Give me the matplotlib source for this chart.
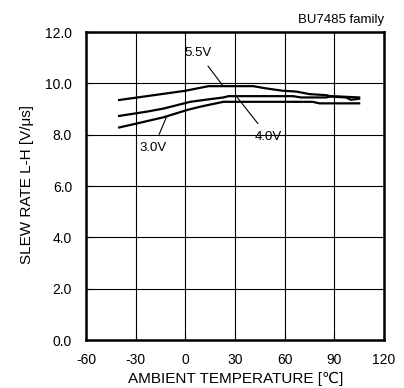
import matplotlib
matplotlib.use("Agg")
import matplotlib.pyplot as plt

plt.rcParams['font.family'] = ['Liberation Sans', 'DejaVu Sans']

temp_55 = [-40, -20, 0, 14, 41, 49, 59, 67, 75, 85, 89, 97, 100, 105]
rate_55 = [9.35, 9.53, 9.71, 9.89, 9.89, 9.80, 9.71, 9.68, 9.58, 9.54, 9.48, 9.45, 9.36, 9.40]
temp_40 = [-40, -23, -13, 3, 11, 23, 26, 65, 70, 85, 89, 105]
rate_40 = [8.73, 8.90, 9.02, 9.28, 9.35, 9.45, 9.50, 9.50, 9.45, 9.45, 9.50, 9.45]
temp_30 = [-40, -29, -13, 1, 9, 23, 26, 77, 81, 105]
rate_30 = [8.28, 8.44, 8.68, 8.96, 9.09, 9.28, 9.28, 9.28, 9.22, 9.22]

xticks = [-60, -30, 0, 30, 60, 90, 120]
yticks = [0.0, 2.0, 4.0, 6.0, 8.0, 10.0, 12.0]

fig = plt.figure(figsize=(4.04, 3.88), dpi=100)
ax = fig.add_axes([86/404, 48/388, 298/404, 308/388])
ax.set_xlim(-60, 120)
ax.set_ylim(0, 12)
ax.set_xticks(xticks)
ax.set_xticklabels([str(t) for t in xticks])
ax.set_yticks(yticks)
ax.set_yticklabels([f"{t:.1f}" for t in yticks])
ax.grid(True, color='black', linewidth=0.8)
ax.tick_params(direction='in', length=4, width=0.8, labelsize=10, colors='black')
ax.tick_params(axis='y', pad=10)
ax.tick_params(axis='x', pad=9)
for s in ax.spines.values():
    s.set_linewidth(1.8)
    s.set_color('black')

for t, r in [(temp_55, rate_55), (temp_40, rate_40), (temp_30, rate_30)]:
    ax.plot(t, r, color='black', linewidth=1.6)

ax.annotate('5.5V', xy=(22.9, 9.89), xytext=(7.6, 11.19), fontsize=9.5, ha='center', va='center',
            arrowprops=dict(arrowstyle='-', color='black', lw=0.8, shrinkA=4, shrinkB=0))
ax.annotate('4.0V', xy=(31, 9.48), xytext=(50.1, 7.92), fontsize=9.5, ha='center', va='center',
            arrowprops=dict(arrowstyle='-', color='black', lw=0.8, shrinkA=4, shrinkB=0))
ax.annotate('3.0V', xy=(-11.3, 8.7), xytext=(-19.4, 7.47), fontsize=9.5, ha='center', va='center',
            arrowprops=dict(arrowstyle='-', color='black', lw=0.8, shrinkA=4, shrinkB=0))

fig.text(236/404, 1 - 379/388, 'AMBIENT TEMPERATURE [℃]', fontsize=11, ha='center', va='center')
fig.text(27/404, 1 - 184/388, 'SLEW RATE L-H [V/μs]', fontsize=11, ha='center', va='center', rotation=90)
fig.text(384/404, 1 - 20/388, 'BU7485 family', fontsize=9.5, ha='right', va='center')

fig.savefig('out.png', dpi=100)
